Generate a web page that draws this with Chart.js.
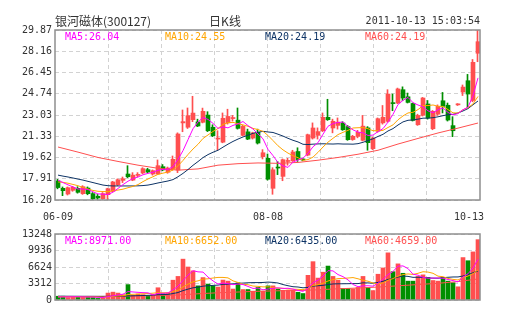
<!DOCTYPE html>
<html>
<head>
<meta charset="utf-8">
<script src="https://cdn.jsdelivr.net/npm/chart.js@4.4.1/dist/chart.umd.min.js"></script>
<style>
  body { margin: 0; background: #fff; }
  #wrap { position: relative; width: 505px; height: 330px; }
  canvas { position: absolute; left: 0; }
</style>
</head>
<body>
<div id="wrap">
  <canvas id="kChart" width="505" height="225" style="top:0"></canvas>
  <canvas id="volChart" width="505" height="105" style="top:225px"></canvas>
</div>
<script>
// 银河磁体 daily K line, 06-09 .. 10-13 (85 trading days)
const dates = ['06-09', '08-08', '10-13'];
const dateAt = [0, 42, 84];
const priceTicks = [16.20, 17.91, 19.62, 21.33, 23.03, 24.74, 26.45, 28.16, 29.87];
const volTicks = [0, 3312, 6624, 9936, 13248];

const openP = [17.73,17.14,16.68,16.98,17.14,16.71,17.16,16.71,16.50,16.30,
  16.63,16.90,17.43,17.78,18.29,17.80,18.18,18.37,18.64,18.29,
  18.29,18.88,18.43,18.67,18.61,22.40,22.05,22.66,22.48,22.45,
  23.03,22.05,21.10,20.85,22.40,22.75,22.62,21.40,21.68,21.18,
  21.64,19.68,19.55,17.14,18.80,18.10,19.30,19.36,20.10,19.47,
  19.81,21.18,21.40,21.77,22.85,21.99,22.20,22.39,22.10,21.06,
  21.32,21.00,22.00,20.33,21.73,22.40,22.53,24.00,24.00,25.07,
  24.50,23.96,22.25,23.01,23.92,21.93,23.10,24.18,23.82,22.18,
  23.85,24.88,25.79,24.20,28.00];
const highP = [17.86,17.25,17.25,17.30,17.27,17.35,17.25,16.80,16.65,16.80,
  17.15,17.70,17.90,18.05,18.96,18.40,18.40,18.80,18.75,18.62,
  19.42,19.05,18.85,19.74,21.60,23.44,23.60,24.54,22.70,23.59,
  23.30,22.25,21.77,23.20,23.50,23.00,23.60,22.20,21.90,21.65,
  21.90,20.25,19.90,18.80,19.30,19.50,19.55,20.20,20.40,19.55,
  21.50,22.40,22.00,23.20,24.30,22.70,22.80,22.50,22.20,21.40,
  21.80,23.00,22.10,21.25,22.80,23.80,25.07,24.72,25.20,25.30,
  24.80,24.00,23.10,24.45,24.20,23.40,23.85,24.85,24.00,22.90,
  23.95,25.45,26.30,27.50,29.87];
const lowP = [17.10,16.55,16.60,16.90,16.75,16.65,16.62,16.20,16.25,16.25,
  16.15,16.85,17.35,17.60,18.00,17.75,18.05,18.30,18.40,18.20,
  18.25,18.55,18.35,18.60,18.40,21.69,21.95,22.50,22.10,22.40,
  21.70,21.30,20.22,20.80,22.30,22.55,21.90,21.35,21.05,21.10,
  20.70,19.50,17.80,16.66,18.24,17.75,19.00,19.30,19.30,19.35,
  19.75,21.10,21.10,21.70,22.60,21.60,21.90,21.80,21.00,21.00,
  21.20,20.95,20.20,20.25,21.65,22.30,22.45,23.38,23.95,24.20,
  24.00,22.55,22.20,22.95,22.70,21.85,23.00,23.20,22.55,21.29,
  23.80,24.60,23.60,24.10,27.32];
const closeP = [17.20,16.95,17.19,17.22,16.82,17.27,16.71,16.30,16.36,16.71,
  17.11,17.65,17.83,17.91,18.07,18.20,18.24,18.72,18.45,18.56,
  18.96,18.62,18.77,19.47,21.51,22.50,22.98,23.19,22.15,23.33,
  21.77,21.37,21.16,22.77,22.92,22.80,21.96,22.12,21.10,21.59,
  20.78,20.00,17.87,18.63,18.77,19.44,19.37,20.06,19.45,19.42,
  21.45,21.99,21.70,22.85,22.66,22.53,22.45,21.85,21.05,21.32,
  21.64,22.14,20.81,21.18,22.74,22.85,24.72,23.95,25.13,24.40,
  24.05,22.60,23.00,24.40,22.79,23.33,23.73,23.73,22.63,21.77,
  23.90,25.28,24.72,27.27,28.93];

const ma5 = [17.80,17.60,17.42,17.25,17.08,17.09,17.04,16.86,16.69,16.67,
  16.64,16.83,17.13,17.44,17.71,17.93,18.05,18.23,18.34,18.43,
  18.59,18.66,18.67,18.88,19.47,20.17,21.05,21.93,22.47,22.83,
  22.68,22.36,21.96,22.08,22.00,22.20,22.32,22.51,22.18,21.91,
  21.51,21.12,20.27,19.77,19.21,18.94,18.82,19.25,19.42,19.56,
  19.96,20.48,20.81,21.49,22.13,22.35,22.44,22.47,22.11,21.84,
  21.66,21.60,21.39,21.42,21.70,21.94,22.46,23.09,23.88,24.21,
  24.45,24.03,23.84,23.69,23.37,23.22,23.45,23.60,23.24,23.04,
  23.15,23.46,23.66,24.59,26.02];
const ma10 = [17.65,17.62,17.55,17.45,17.35,17.20,17.08,16.97,16.90,16.88,
  16.87,16.94,17.00,17.07,17.19,17.29,17.44,17.68,17.89,18.07,
  18.26,18.36,18.45,18.61,18.95,19.38,19.86,20.30,20.68,21.15,
  21.43,21.71,21.95,22.28,22.42,22.44,22.34,22.24,22.13,21.96,
  21.86,21.72,21.39,20.98,20.56,20.23,19.97,19.76,19.60,19.39,
  19.45,19.65,20.03,20.46,20.85,21.16,21.46,21.64,21.80,21.99,
  22.01,22.02,21.93,21.77,21.77,21.80,22.03,22.24,22.65,22.96,
  23.20,23.25,23.47,23.79,23.79,23.84,23.74,23.72,23.47,23.21,
  23.19,23.46,23.63,23.92,24.53];
const ma20 = [18.20,18.12,18.05,17.97,17.88,17.80,17.70,17.60,17.50,17.40,
  17.35,17.33,17.33,17.33,17.33,17.33,17.34,17.36,17.40,17.48,
  17.57,17.65,17.73,17.84,18.07,18.34,18.65,18.99,19.29,19.61,
  19.85,20.04,20.20,20.45,20.69,20.91,21.10,21.27,21.41,21.56,
  21.65,21.72,21.67,21.63,21.49,21.34,21.16,21.00,20.87,20.68,
  20.66,20.69,20.71,20.72,20.71,20.70,20.72,20.70,20.70,20.69,
  20.73,20.84,20.98,21.12,21.31,21.48,21.75,21.94,22.23,22.48,
  22.61,22.64,22.70,22.78,22.78,22.82,22.89,22.98,23.06,23.09,
  23.20,23.36,23.55,23.86,24.16];
const ma60At = [0,4,8,12,16,20,24,28,32,36,40,44,48,52,56,60,64,68,72,76,80,84];
const ma60 = [20.46,20.05,19.62,19.30,19.00,18.75,18.60,18.70,19.00,19.12,19.18,
  19.15,19.22,19.40,19.62,19.88,20.20,20.70,21.15,21.59,21.98,22.39];

const volume = [757,757,505,630,630,568,694,505,315,442,
  1388,1577,1388,1072,3091,946,1199,1072,883,1072,
  2460,1262,1388,3975,4732,8202,6624,5850,2839,4500,
  3200,2800,2600,4000,3785,2200,3440,2100,2100,1767,
  2524,1767,2839,2839,2208,1950,1950,1950,1550,1300,
  4950,7697,4400,5580,6813,4732,3975,2334,2334,2208,
  2524,4732,2524,1893,5173,6435,9464,5678,7255,5363,
  3785,3785,4732,5047,4542,3912,3785,4542,3785,3470,
  2650,8517,7886,9653,12113];
const volMa5 = [600,620,630,640,656,618,605,605,542,505,
  669,845,1022,1173,1703,1615,1539,1476,1438,1034,
  1337,1350,1413,2031,2763,3912,4984,5877,5649,5603,
  4603,3838,3188,3420,3277,3077,3205,3105,2725,2321,
  2386,2052,2199,2347,2435,2321,2357,2179,1922,1740,
  2340,3489,3979,4785,5888,5844,5100,4687,4038,3117,
  2675,2826,2864,2776,3369,4151,5098,5729,6801,6839,
  6309,5173,4984,4542,4378,4404,4404,4366,4113,3899,
  3646,4593,5262,6435,8164];
const volMa10 = [650,650,650,645,640,630,630,625,615,581,
  644,725,814,858,1104,1142,1192,1249,1306,1369,
  1476,1445,1445,1735,1899,2625,3167,3645,3840,4183,
  4258,4411,4533,4535,4440,3840,3522,3147,3073,2799,
  2732,2629,2652,2536,2378,2354,2205,2189,2135,2088,
  2331,2923,3079,3354,3814,4092,4295,4333,4412,4503,
  4260,3963,3776,3407,3243,3413,3962,4297,4789,5104,
  5230,5136,5357,5672,5609,5357,4789,4675,4328,4139,
  4025,4499,4814,5274,6032];
const volMa20 = [760,760,755,750,745,740,740,735,730,730,
  735,745,760,780,810,840,870,900,940,975,
  1060,1085,1130,1297,1502,1884,2180,2447,2573,2776,
  2867,2928,2989,3135,3170,3233,3345,3396,3457,3491,
  3495,3520,3593,3536,3409,3097,2864,2668,2604,2444,
  2532,2776,2866,2945,3096,3223,3250,3261,3274,3296,
  3296,3443,3428,3381,3529,3753,4129,4315,4601,4804,
  4745,4550,4567,4540,4426,4385,4376,4486,4559,4622,
  4628,4818,5086,5473,5821];
const volMa60 = [700,710,720,740,800,900,1000,1250,1450,1600,1750,
  1850,1900,2050,2250,2400,2600,2850,3100,3350,3700,4227];

const priceLabels = ['MA5:26.04', 'MA10:24.55', 'MA20:24.19', 'MA60:24.19'];
const volLabels = ['MA5:8971.00', 'MA10:6652.00', 'MA20:6435.00', 'MA60:4659.00'];

const UP = '#ff4f4f', DOWN = '#008f00';
const MA_COLORS = ['#ff00ff', '#ffa500', '#0d3365', '#ff4f4f'];
const GRID = '#d2d2d2';
const MONO = "'DejaVu Sans Mono', monospace";

Chart.defaults.font.family = MONO;
Chart.defaults.font.size = 10;
Chart.defaults.color = '#333';

const idx = closeP.map((_, i) => i);
const dirColor = idx.map(i => closeP[i] >= openP[i] ? UP : DOWN);

function maLine(label, vals, color, at) {
  return {
    type: 'line', label,
    data: vals.map((v, k) => ({ x: at ? at[k] : k, y: v })),
    borderColor: color, borderWidth: 1, pointRadius: 0, tension: 0, order: 0
  };
}

// grid: 8 equal columns, not tied to dates
function xGrid(s) {
  const step = (s.max - s.min) / 8;
  s.ticks = [1, 2, 3, 4, 5, 6, 7].map(k => ({ value: s.min + k * step }));
}

const frame = {
  id: 'frame',
  afterDraw(chart, args, opts) {
    const { ctx, chartArea: a } = chart;
    ctx.save();
    ctx.strokeStyle = '#8f8f8f';
    ctx.lineWidth = 1.5;
    ctx.strokeRect(a.left, a.top, a.right - a.left, a.bottom - a.top);
    ctx.font = '10px ' + MONO;
    ctx.textBaseline = 'middle';
    ctx.textAlign = 'left';
    opts.labels.forEach((t, k) => {
      ctx.fillStyle = MA_COLORS[k];
      ctx.fillText(t, a.left + 10 + 100 * k, a.top + 7);
    });
    ctx.restore();
  }
};

const heading = {
  id: 'heading',
  afterDraw(chart) {
    const { ctx, chartArea: a } = chart;
    const xs = chart.scales.x;
    ctx.save();
    ctx.fillStyle = '#333';
    ctx.textBaseline = 'middle';
    ctx.font = "12px 'Noto Sans CJK SC'";
    ctx.textAlign = 'left';
    ctx.fillText('银河磁体(300127)', a.left, 21);
    ctx.textAlign = 'center';
    ctx.fillText('日K线', 225, 21);
    ctx.font = '10px ' + MONO;
    ctx.textAlign = 'right';
    ctx.fillText('2011-10-13 15:03:54', a.right, 21);
    dates.forEach((d, k) => {
      const last = k === dates.length - 1;
      ctx.textAlign = last ? 'right' : 'center';
      const x = last ? a.right + 4 : xs.getPixelForValue(dateAt[k]);
      ctx.fillText(d, x, a.bottom + 17);
    });
    ctx.restore();
  }
};

new Chart(document.getElementById('kChart'), {
  type: 'bar',
  data: {
    datasets: [
      maLine('MA5', ma5, MA_COLORS[0]),
      maLine('MA10', ma10, MA_COLORS[1]),
      maLine('MA20', ma20, MA_COLORS[2]),
      maLine('MA60', ma60, MA_COLORS[3], ma60At),
      {
        label: 'body',
        data: idx.map(i => ({ x: i, y: [openP[i], closeP[i]] })),
        backgroundColor: dirColor, barThickness: 4, minBarLength: 1,
        grouped: false, order: 1
      },
      {
        label: 'wick', xAxisID: 'xw',
        data: idx.map(i => ({ x: i, y: [lowP[i], highP[i]] })),
        backgroundColor: dirColor, barThickness: 1,
        grouped: false, order: 2
      }
    ]
  },
  options: {
    responsive: false,
    animation: false,
    layout: { padding: { top: 30, right: 25, bottom: 25, left: 0 } },
    plugins: {
      legend: { display: false },
      tooltip: { enabled: false },
      frame: { labels: priceLabels }
    },
    scales: {
      x: {
        type: 'linear', min: -0.6, max: 84.4, offset: false,
        ticks: { display: false },
        grid: { color: GRID, drawTicks: false, offset: false },
        border: { display: false, dash: [4, 3] },
        afterBuildTicks: xGrid,
        afterFit: s => { s.height = 0; }
      },
      xw: { type: 'linear', min: -0.5, max: 84.5, offset: false, display: false },
      y: {
        min: 16.2, max: 29.87,
        afterBuildTicks: s => { s.ticks = priceTicks.map(v => ({ value: v })); },
        ticks: { callback: (v, i) => priceTicks[i].toFixed(2), padding: 3 },
        grid: { color: GRID, drawTicks: false },
        border: { display: false, dash: [4, 3] },
        afterFit: s => { s.width = 55; }
      }
    }
  },
  plugins: [frame, heading]
});

new Chart(document.getElementById('volChart'), {
  type: 'bar',
  data: {
    datasets: [
      maLine('MA5', volMa5, MA_COLORS[0]),
      maLine('MA10', volMa10, MA_COLORS[1]),
      maLine('MA20', volMa20, MA_COLORS[2]),
      maLine('MA60', volMa60, MA_COLORS[3], ma60At),
      {
        label: 'volume',
        data: idx.map(i => ({ x: i, y: volume[i] })),
        backgroundColor: dirColor, barThickness: 4, order: 1
      }
    ]
  },
  options: {
    responsive: false,
    animation: false,
    layout: { padding: { top: 5, right: 25, bottom: 30, left: 0 } },
    plugins: {
      legend: { display: false },
      tooltip: { enabled: false },
      frame: { labels: volLabels }
    },
    scales: {
      x: {
        type: 'linear', min: -0.6, max: 84.4, offset: false,
        ticks: { display: false },
        grid: { color: GRID, drawTicks: false, offset: false },
        border: { display: false, dash: [4, 3] },
        afterBuildTicks: xGrid,
        afterFit: s => { s.height = 0; }
      },
      y: {
        min: 0, max: 13248,
        afterBuildTicks: s => { s.ticks = volTicks.map(v => ({ value: v })); },
        ticks: { callback: (v, i) => String(volTicks[i]), padding: 3 },
        grid: { color: GRID, drawTicks: false },
        border: { display: false, dash: [4, 3] },
        afterFit: s => { s.width = 55; }
      }
    }
  },
  plugins: [frame]
});
</script>
</body>
</html>
